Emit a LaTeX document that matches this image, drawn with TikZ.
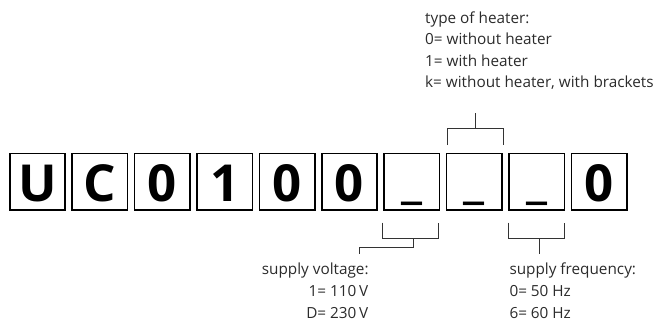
\documentclass[tikz,border=0pt]{standalone}
\usepackage{fontspec}
\setmainfont{Open Sans}
\definecolor{txt}{HTML}{2B2B2B}
\definecolor{ln}{HTML}{333333}
\begin{document}
\begin{tikzpicture}[x=1pt,y=-1pt,
  digitbox/.style={draw=black, line width=1.6pt, minimum width=55.5pt, inner sep=0pt,
    text height=47.5pt, text depth=9pt, font=\fontsize{51}{51}\selectfont\bfseries},
  lbl/.style={inner sep=0pt, text=txt, font=\fontsize{15.3}{21}\selectfont},
  brk/.style={draw=ln, line width=0.9pt}]
\useasboundingbox (0,0) rectangle (657,325);
\foreach \c [count=\i] in {U,C,0,1,0,0,\raisebox{4pt}{\_},\raisebox{4pt}{\_},\raisebox{4pt}{\_},0}{
  \node[digitbox] (b\i) at ({37.5+62.4*(\i-1)},181.75) {\c};
}
% top text
\node[lbl, anchor=base west] (t1) at (425,23.5) {type of heater:};
\node[lbl, anchor=base west] (t2) at (425,44.8) {0= without heater};
\node[lbl, anchor=base west] (t3) at (425,66.1) {1= with heater};
\node[lbl, anchor=base west] (t4) at (425,87.4) {k= without heater, with brackets};
% supply voltage
\node[lbl, anchor=base west] (v1) at (261.7,274) {supply voltage:};
\node[lbl, anchor=base east] (v2) at (368.3,296) {1= 110\,V};
\node[lbl, anchor=base east] (v3) at (368.3,318) {D= 230\,V};
% supply frequency
\node[lbl, anchor=base west] (f1) at (509.3,274) {supply frequency:};
\node[lbl, anchor=base west] (f2) at (509.3,296) {0= 50 Hz};
\node[lbl, anchor=base west] (f3) at (509.3,318) {6= 60 Hz};
% top bracket (box 8)
\coordinate (tl) at (447,145);
\coordinate (tr) at (503,145);
\coordinate (tm) at (475,128);
\coordinate (ttop) at (475,113);
\draw[brk] (tl) |- (tr |- tm) -- (tr);
\draw[brk] (tm) -- (ttop);
% bottom-left bracket (box 7)
\coordinate (vl) at (382.7,222.7);
\coordinate (vr) at (438.3,222.7);
\coordinate (vm) at (413.3,238.3);
\coordinate (vend) at (359.3,254.3);
\draw[brk] (vl) |- (vr |- vm) -- (vr);
\draw[brk] (vm) -- (413.3,247.7) -| (vend);
% bottom-right bracket (box 9)
\coordinate (fl) at (508.7,222.7);
\coordinate (fr) at (564.3,222.7);
\coordinate (fm) at (539.3,238.3);
\coordinate (fend) at (539.3,254);
\draw[brk] (fl) |- (fr |- fm) -- (fr);
\draw[brk] (fm) -- (fend);
\end{tikzpicture}
\end{document}
